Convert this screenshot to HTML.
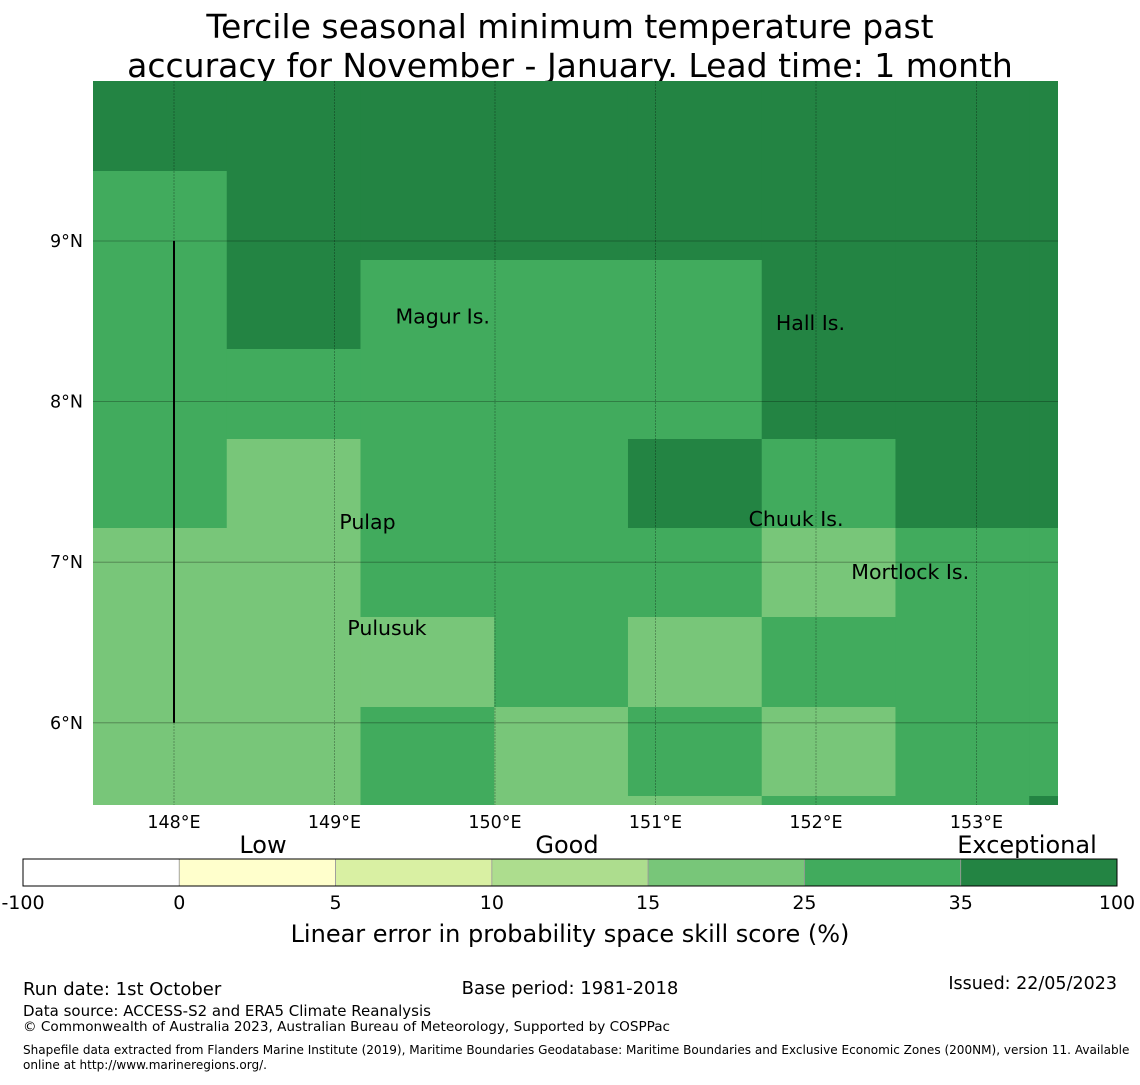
<!DOCTYPE html>
<html><head><meta charset="utf-8"><style>
body{margin:0;background:#fff;width:1140px;height:1080px;overflow:hidden;font-family:"Liberation Sans","DejaVu Sans",sans-serif}
svg text{font-family:"DejaVu Sans","Liberation Sans",sans-serif}
</style></head><body>
<svg id="chart" width="1140" height="1080">
<text x="570" y="38" font-size="33" text-anchor="middle">Tercile seasonal minimum temperature past</text>
<text x="570" y="77" font-size="33" text-anchor="middle">accuracy for November - January. Lead time: 1 month</text>
<g id="map"></g>
<g id="cbar"></g>
<text x="570" y="942" font-size="24" text-anchor="middle">Linear error in probability space skill score (%)</text>
<text x="263" y="853" font-size="24" text-anchor="middle">Low</text>
<text x="567" y="853" font-size="24" text-anchor="middle">Good</text>
<text x="1027" y="853" font-size="24" text-anchor="middle">Exceptional</text>
<text x="23" y="995" font-size="18">Run date: 1st October</text>
<text x="570" y="994" font-size="18" text-anchor="middle">Base period: 1981-2018</text>
<text x="1117" y="989" font-size="17.5" text-anchor="end">Issued: 22/05/2023</text>
<text x="23" y="1016" font-size="15">Data source: ACCESS-S2 and ERA5 Climate Reanalysis</text>
<text x="23" y="1031" font-size="13.6">© Commonwealth of Australia 2023, Australian Bureau of Meteorology, Supported by COSPPac</text>
<text x="23" y="1054" font-size="12.05">Shapefile data extracted from Flanders Marine Institute (2019), Maritime Boundaries Geodatabase: Maritime Boundaries and Exclusive Economic Zones (200NM), version 11. Available</text>
<text x="23" y="1069" font-size="12.05">online at http://www.marineregions.org/.</text>
</svg>
<script>
const colors=["#ffffff","#ffffcc","#d9f0a3","#addd8e","#78c679","#41ab5d","#238443"];
const boundaries=["-100","0","5","10","15","25","35","100"];
// grid of category indices (6=dark,5=medium,4=light); rows top->bottom
const gridRows=[
[6,6,6,6,6,6,6,6],
[5,6,6,6,6,6,6,6],
[5,6,5,5,5,6,6,6],
[5,5,5,5,5,6,6,6],
[5,4,5,5,6,5,6,6],
[4,4,5,5,5,4,5,5],
[4,4,4,5,4,5,5,5],
[4,4,5,4,5,4,5,5],
[4,4,5,4,4,5,5,6]];
const lonTicks=[148,149,150,151,152,153];
const latTicks=[9,8,7,6];
const places=[["Magur Is.",149.38,8.53],["Hall Is.",151.75,8.49],["Pulap",149.03,7.25],["Chuuk Is.",151.58,7.27],["Mortlock Is.",152.22,6.94],["Pulusuk",149.08,6.59]];
const NS="http://www.w3.org/2000/svg";
const X0=93,X1=1058,Y0=81,Y1=805;
const lonX=l=>174+(l-148)*160.5;
const latY=l=>241+(9-l)*160.6;
const cw=(lonX(148+0.8333)-lonX(148));
const gx0=93;
function mk(t,a,p){const e=document.createElementNS(NS,t);for(const k in a)e.setAttribute(k,a[k]);p.appendChild(e);return e;}
const map=document.getElementById('map');
const cp=mk('clipPath',{id:'cp'},map);
mk('rect',{x:X0,y:Y0,width:X1-X0,height:Y1-Y0},cp);
const g=mk('g',{'clip-path':'url(#cp)'},map);
const rowTops=[Y0,171,260,349,439,528,617,707,796,805];
gridRows.forEach((row,r)=>row.forEach((c,k)=>{
 const x=gx0+k*cw;
 const e=mk('rect',{x:x,y:rowTops[r],width:cw+1,height:rowTops[r+1]-rowTops[r]+1,fill:colors[c]},g);
 
 
}));
lonTicks.forEach(l=>{const x=lonX(l);
 const ln=mk('line',{x1:x,y1:Y0,x2:x,y2:Y1,stroke:'#000','stroke-opacity':0.35,'stroke-width':0.8,'stroke-dasharray':'2,1'},map);
 
 const t=mk('text',{x:x,y:828,'font-size':17.5,'text-anchor':'middle'},map);t.textContent=l+'°E';
 });
latTicks.forEach(l=>{const y=latY(l);
 const ln=mk('line',{x1:X0,y1:y,x2:X1,y2:y,stroke:'#000','stroke-opacity':0.35,'stroke-width':0.8},map);
 
 const t=mk('text',{x:83,y:y+6,'font-size':17.5,'text-anchor':'end'},map);t.textContent=l+'°N';
 });
const vl=mk('line',{x1:lonX(148),y1:latY(9),x2:lonX(148),y2:latY(6),stroke:'#000','stroke-width':2},map);

places.forEach(p=>{const t=mk('text',{x:lonX(p[1]),y:latY(p[2])+7,'font-size':20.5},map);t.textContent=p[0];
 });
const cb=document.getElementById('cbar');const CX0=23,CX1=1117,sw=(CX1-CX0)/7;
colors.forEach((c,i)=>{const r=mk('rect',{x:CX0+i*sw,y:859,width:sw,height:27,fill:c,stroke:'#999','stroke-width':0.8},cb);
 });
mk('rect',{x:CX0,y:859,width:CX1-CX0,height:27,fill:'none',stroke:'#000','stroke-width':1},cb);
boundaries.forEach((b,i)=>{const t=mk('text',{x:CX0+i*sw,y:909,'font-size':19,'text-anchor':'middle'},cb);t.textContent=b;
 });
</script>
</body></html>
